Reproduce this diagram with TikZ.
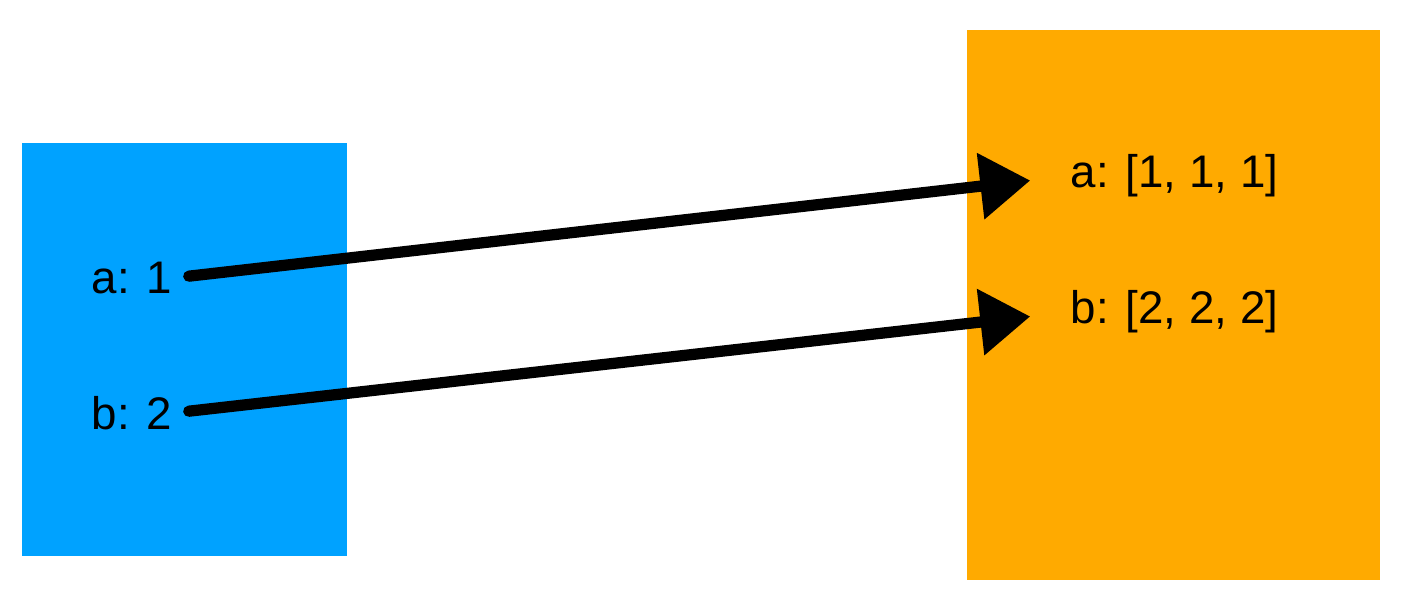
\documentclass[tikz,border=0pt]{standalone}
\usepackage{fontspec}
\setmainfont{Liberation Sans}
\usepackage{tikz}
\usetikzlibrary{arrows.meta,positioning,calc}

\definecolor{srcblue}{RGB}{0,162,255}
\definecolor{dstorange}{RGB}{255,170,0}

\begin{document}
\begin{tikzpicture}[
    block/.style={inner sep=0pt, outer sep=0pt},
    entry/.style={inner sep=0pt, font=\fontsize{13}{15}\selectfont},
    link/.style={line width=3.2pt, line cap=round,
        -{Triangle[length=0.5cm, width=0.64cm]},
        shorten <=0.16cm, shorten >=0.4cm}
]
    \useasboundingbox (0,0) rectangle (14.10,6.06);

    % Source and target blocks
    \node[block, fill=srcblue, minimum width=3.25cm, minimum height=4.13cm,
        anchor=south west] (src) at (0.22,0.50) {};
    \node[block, fill=dstorange, minimum width=4.13cm, minimum height=5.50cm,
        anchor=south west] (dst) at (9.67,0.26) {};

    % Entries
    \node[entry, anchor=west] (aval) at (0.91,3.28) {a: 1};
    \node[entry, anchor=west] (bval) at (0.91,1.93) {b: 2};
    \node[entry, anchor=west] (alist) at (10.70,4.30) {a: [1, 1, 1]};
    \node[entry, anchor=west] (blist) at (10.70,2.94) {b: [2, 2, 2]};

    % Mapping
    \draw[link] (aval.east) -- (alist.west);
    \draw[link] (bval.east) -- (blist.west);
\end{tikzpicture}
\end{document}
